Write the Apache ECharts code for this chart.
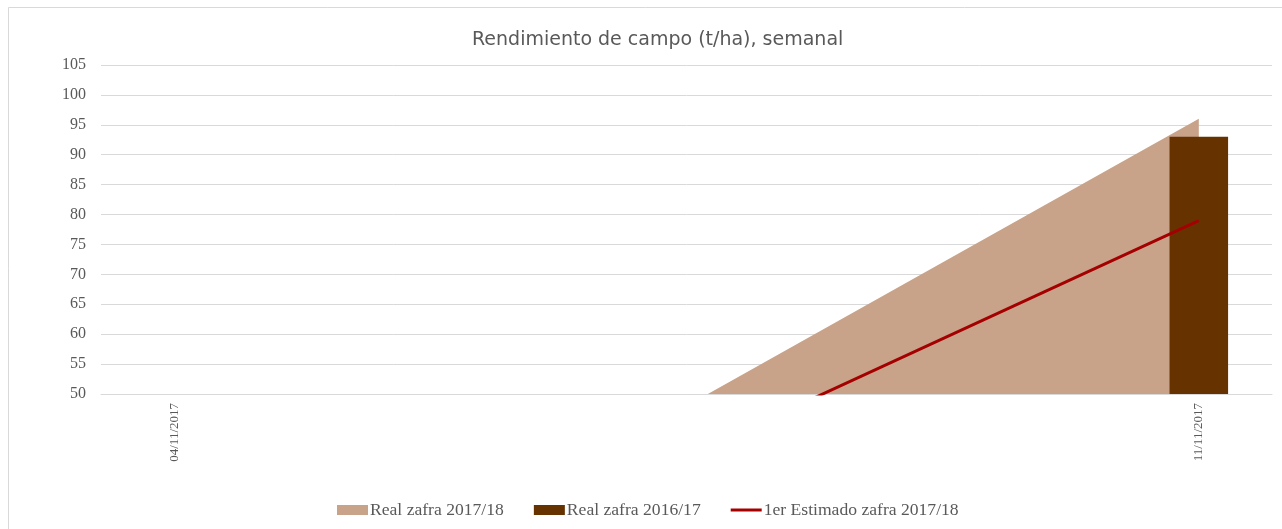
<!DOCTYPE html>
<html>
<head>
<meta charset="utf-8">
<script src="https://cdn.jsdelivr.net/npm/echarts@6/dist/echarts.min.js"></script>
<style>
html,body{margin:0;padding:0;background:#fff;}
#chart{width:1282px;height:529px;}
</style>
</head>
<body>
<div id="chart"></div>
<script>
const categories = ['04/11/2017','05/11/2017','06/11/2017','07/11/2017','08/11/2017','09/11/2017','10/11/2017','11/11/2017'];
const realZafra1718 = [0, null, null, null, null, null, null, 96];
const realZafra1617 = [0, null, null, null, null, null, null, 93];
const estimado1718 = [0, null, null, null, null, null, null, 79];
const yTicks = [50, 105, 5];

const chart = echarts.init(document.getElementById('chart'), null, {renderer: 'canvas'});
const serif = '"Liberation Serif", "Times New Roman", serif';
chart.setOption({
  animation: false,
  backgroundColor: '#ffffff',
  title: {
    text: 'Rendimiento de campo (t/ha), semanal',
    left: 467,
    top: 26,
    textStyle: {fontFamily: '"DejaVu Sans", sans-serif', fontSize: 19, fontWeight: 'normal', color: '#595959'}
  },
  graphic: [{
    type: 'rect', z: -1, silent: true,
    shape: {x: 8.5, y: 7.5, width: 1290, height: 540},
    style: {fill: 'none', stroke: '#d9d9d9', lineWidth: 1}
  }],
  legend: {
    bottom: 5,
    left: 332,
    itemWidth: 31,
    itemHeight: 10,
    itemGap: 30,
    textStyle: {fontFamily: serif, fontSize: 17.6, color: '#595959', padding: [0, 0, 0, -3]},
    data: [
      {name: 'Real zafra 2017/18', icon: 'rect'},
      {name: 'Real zafra 2016/17', icon: 'rect'},
      {name: '1er Estimado zafra 2017/18', icon: 'path://M0,0 L31,0 L31,3 L0,3 Z'}
    ]
  },
  grid: {left: 101, right: 10, top: 65, bottom: 135, containLabel: false},
  xAxis: {
    type: 'category',
    data: categories,
    boundaryGap: true,
    axisLine: {lineStyle: {color: '#d9d9d9'}},
    axisTick: {interval: 6, length: 4, lineStyle: {color: '#d9d9d9'}},
    axisLabel: {interval: 6, rotate: 90, margin: 9, fontFamily: serif, fontSize: 13, color: '#595959'},
    splitLine: {show: false}
  },
  yAxis: {
    type: 'value',
    min: yTicks[0], max: yTicks[1], interval: yTicks[2],
    axisLine: {show: false},
    axisTick: {show: false},
    axisLabel: {margin: 15, fontFamily: serif, fontSize: 16, color: '#595959'},
    splitLine: {lineStyle: {color: '#d9d9d9', width: 1}}
  },
  series: [
    {
      name: 'Real zafra 2017/18',
      type: 'line',
      data: realZafra1718,
      connectNulls: true,
      symbol: 'none',
      lineStyle: {width: 0, color: '#c8a38a'},
      itemStyle: {color: '#c8a38a'},
      areaStyle: {color: '#c8a38a', opacity: 1, origin: 'start'},
      z: 1
    },
    {
      name: 'Real zafra 2016/17',
      type: 'bar',
      data: realZafra1617,
      barWidth: '40%',
      itemStyle: {color: '#663300'},
      z: 2
    },
    {
      name: '1er Estimado zafra 2017/18',
      type: 'line',
      data: estimado1718,
      connectNulls: true,
      symbol: 'none',
      lineStyle: {width: 3, color: '#a50000'},
      itemStyle: {color: '#a50000'},
      z: 3
    }
  ]
});
</script>
</body>
</html>
